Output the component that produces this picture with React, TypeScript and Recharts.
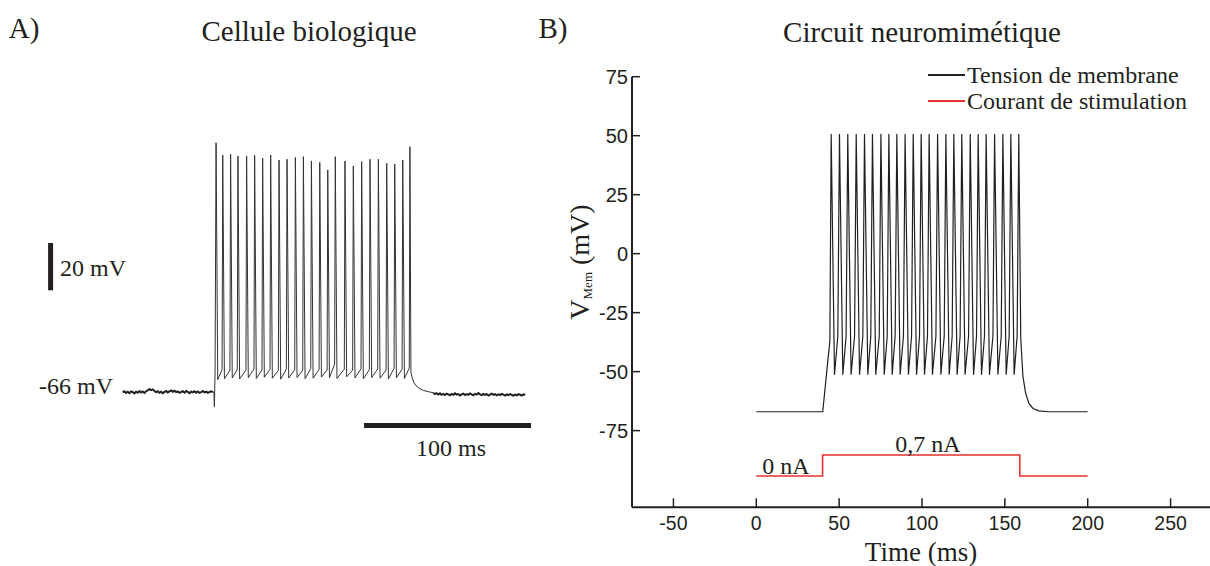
import { LineChart, Line, XAxis, YAxis, ReferenceLine } from "recharts";

const SERIF = '"Liberation Serif", "Times New Roman", serif';
const SANS = '"Liberation Sans", Arial, sans-serif';
const INK = "#231f20";
const RED = "#e8302f";

// ---------- A) Cellule biologique (time in ms, voltage in mV) ----------
const bioSampleMs = 1;
// resting trace before the stimulus, t = 0 .. 54 ms
const bioRestBefore = [
  -66.2, -65.7, -66.4, -65.9, -66.5, -65.8, -66.1, -66.6, -65.9, -66.3,
  -65.6, -66.2, -65.8, -66.4, -65.7, -65.3, -64.8, -65.2, -64.9, -65.6,
  -66.1, -65.7, -66.3, -65.9, -66.5, -66.0, -65.6, -66.2, -65.8, -65.4,
  -65.9, -65.5, -66.1, -65.8, -66.4, -66.0, -65.7, -66.3, -65.6, -66.0,
  -66.5, -65.9, -66.2, -65.7, -66.3, -65.8, -66.4, -66.1, -65.6, -66.2,
  -65.9, -66.4, -66.0, -65.7, -66.1,
];
// stimulus artefact at onset
const bioOnset = [
  { t: 54.6, v: -66.0 },
  { t: 54.9, v: -72.3 },
  { t: 55.3, v: -57.5 },
];
const bioSpikeTimes = [
  55.9, 59.9, 64.6, 69.0, 74.2, 79.0, 83.8, 88.6, 93.6, 98.4, 103.4, 108.2, 113.0, 118.0, 122.8,
  127.3, 133.1, 138.1, 143.1, 148.1, 153.1, 158.1, 162.9, 167.7, 172.0,
];
const bioSpikePeaks = [
  39.4, 34.2, 34.5, 33.8, 33.8, 34.1, 32.9, 34.2, 32.1, 32.4, 33.2, 33.5, 31.7, 31.1, 27.9, 33.5,
  31.7, 29.6, 31.4, 32.4, 32.4, 30.7, 30.4, 32.1, 37.7,
];
const bioTroughs = [
  -60.8, -60.4, -60.1, -60.5, -60.0, -60.3, -59.8, -60.2, -60.6, -60.1, -59.9, -60.4, -60.2, -59.7,
  -60.0, -60.3, -59.6, -60.1, -60.4, -59.9, -60.2, -60.5, -60.0, -60.3, -59.5,
];
// level reached just before each upstroke
const bioRampTops = [
  -57.5, -56.6, -56.9, -56.4, -56.8, -56.2, -56.7, -56.5, -56.9, -56.3, -56.6, -56.8, -56.1, -56.5,
  -56.7, -54.2, -56.4, -56.8, -56.2, -56.6, -56.3, -56.7, -56.0, -56.4, -55.9,
];
const bioDecay = [
  { t: 172.6, v: -57.8 },
  { t: 173.3, v: -59.9 },
  { t: 174.3, v: -61.9 },
  { t: 175.6, v: -63.3 },
  { t: 177.5, v: -64.4 },
  { t: 180.0, v: -65.3 },
  { t: 183.0, v: -65.9 },
];
const bioRestAfterStart = 186;
const bioRestAfter = [
  -66.3, -66.9, -66.5, -67.1, -66.6, -67.2, -66.8, -67.3, -66.7, -67.0,
  -67.4, -66.8, -67.2, -66.6, -67.1, -66.9, -67.5, -67.0, -66.7, -67.3,
  -66.9, -67.2, -66.6, -67.0, -67.4, -66.8, -67.1, -66.5, -67.0, -67.3,
  -66.8, -67.2, -66.9, -67.5, -67.1, -66.7, -67.2, -66.9, -67.4, -67.0,
  -67.3, -66.8, -67.1, -67.5, -67.0, -67.3, -66.9, -67.2, -67.6, -67.1,
  -67.4, -66.9, -67.2, -67.5, -67.0, -67.3,
];
// scale bars: 20 mV and 100 ms
const barMvX = -43.2;
const barMv = [-23, -3];
const barMsY = -80.2;
const barMs = [144.5, 244.5];

// ---------- B) Circuit neuromimétique ----------
const simRest = [
  { t: 0, v: -67 },
  { t: 40.1, v: -67 },
  { t: 42.8, v: -48 },
  { t: 44.4, v: -37 },
];
const simSpikeTimes = [
  45.2, 50.2, 55.2, 60.3, 65.3, 70.1, 75.2, 80.0, 84.8, 89.8, 94.7, 99.5, 104.3, 109.4, 114.4,
  119.2, 124.0, 129.1, 133.9, 138.7, 143.8, 148.8, 153.6, 158.4,
];
const simPeak = 50.7;
const simTrough = -51.3;
const simThreshold = -35;
const simDecay = [
  { t: 159.6, v: -36 },
  { t: 160.9, v: -52 },
  { t: 162.5, v: -59 },
  { t: 164.5, v: -63.5 },
  { t: 167.0, v: -65.6 },
  { t: 170.5, v: -66.6 },
  { t: 176.0, v: -67 },
  { t: 200.0, v: -67 },
];
const stimTimes = [0, 40, 40, 159, 159, 200];
const stimNa = [0, 0, 0.7, 0.7, 0, 0];

const xTicksB = [-50, 0, 50, 100, 150, 200, 250];
const yTicksB = [-75, -50, -25, 0, 25, 50, 75];

const seriesB = [
  { key: "v", name: "Tension de membrane", color: INK },
  { key: "i", name: "Courant de stimulation", color: RED },
];

// build traces
const bioBefore = bioRestBefore.map((v, i) => ({ t: i * bioSampleMs, v }));
const bioAfter = bioRestAfter.map((v, i) => ({ t: bioRestAfterStart + i * bioSampleMs, v }));

const bioFiring: { t: number; v: number }[] = [bioBefore[bioBefore.length - 1], ...bioOnset];
bioSpikeTimes.forEach((tp, i) => {
  if (i > 0) bioFiring.push({ t: tp - 0.4, v: bioRampTops[i] });
  bioFiring.push({ t: tp, v: bioSpikePeaks[i] });
  if (i < bioSpikeTimes.length - 1) bioFiring.push({ t: tp + 1.0, v: bioTroughs[i] });
});
bioDecay.forEach((p) => bioFiring.push(p));
bioFiring.push(bioAfter[0]);

const simTrace: { t: number; v: number }[] = [...simRest];
simSpikeTimes.forEach((tp, i) => {
  simTrace.push({ t: tp, v: simPeak });
  if (i < simSpikeTimes.length - 1) {
    simTrace.push({ t: tp + 2.0, v: simTrough });
    simTrace.push({ t: simSpikeTimes[i + 1] - 1.0, v: simThreshold });
  }
});
simDecay.forEach((p) => simTrace.push(p));

const stimTrace = stimTimes.map((t, i) => ({ t, i: stimNa[i] }));

function YTick(props: any) {
  const { x, y, payload } = props;
  return (
    <g>
      <line x1={x + 4} x2={x + 12} y1={y} y2={y} stroke={INK} strokeWidth={1.5} />
      <text x={x} y={y + 7} textAnchor="end" fill={INK} fontFamily={SANS} fontSize={20}>
        {payload.value}
      </text>
    </g>
  );
}

function XTick(props: any) {
  const { x, y, payload } = props;
  return (
    <g>
      <line x1={x} x2={x} y1={y - 9} y2={y - 18} stroke={INK} strokeWidth={1.5} />
      <text x={x} y={y + 13.5} textAnchor="middle" fill={INK} fontFamily={SANS} fontSize={19.5}>
        {payload.value}
      </text>
    </g>
  );
}

function Txt({ x, y, size, children }: { x: number; y: number; size: number; children: any }) {
  return (
    <div
      style={{
        position: "absolute",
        left: x,
        top: y,
        transform: "translate(-50%, -50%)",
        fontFamily: SERIF,
        fontSize: size,
        lineHeight: 1,
        color: INK,
        whiteSpace: "nowrap",
      }}
    >
      {children}
    </div>
  );
}

export default function App() {
  return (
    <div
      style={{
        position: "absolute",
        left: 0,
        top: 0,
        width: 1210,
        height: 566,
        overflow: "hidden",
        background: "#fff",
      }}
    >
      {/* Panel A */}
      <div style={{ position: "absolute", left: 0, top: 0 }}>
        <LineChart width={540} height={566} margin={{ top: 0, right: 0, bottom: 0, left: 0 }}>
          <XAxis type="number" dataKey="t" hide domain={[-73.5, 249.9]} allowDataOverflow />
          <YAxis type="number" hide domain={[-139.6, 99.75]} allowDataOverflow />
          <ReferenceLine
            segment={[
              { x: barMvX, y: barMv[0] },
              { x: barMvX, y: barMv[1] },
            ]}
            stroke={INK}
            strokeWidth={5}
          />
          <ReferenceLine
            segment={[
              { x: barMs[0], y: barMsY },
              { x: barMs[1], y: barMsY },
            ]}
            stroke={INK}
            strokeWidth={5}
          />
          <Line
            data={bioFiring}
            dataKey="v"
            type="linear"
            stroke="#333"
            strokeWidth={1}
            dot={false}
            activeDot={false}
            isAnimationActive={false}
          />
          <Line
            data={bioBefore}
            dataKey="v"
            type="linear"
            stroke={INK}
            strokeWidth={2}
            strokeLinecap="butt"
            dot={false}
            activeDot={false}
            isAnimationActive={false}
          />
          <Line
            data={bioAfter}
            dataKey="v"
            type="linear"
            stroke={INK}
            strokeWidth={2}
            strokeLinecap="butt"
            dot={false}
            activeDot={false}
            isAnimationActive={false}
          />
        </LineChart>
      </div>

      {/* Panel B */}
      <div style={{ position: "absolute", left: 540, top: 0 }}>
        <LineChart width={672} height={566} margin={{ top: 76.7, right: 0, bottom: 18.7, left: 0 }}>
          <XAxis
            type="number"
            dataKey="t"
            domain={[-75, 275]}
            ticks={xTicksB}
            allowDataOverflow
            height={40}
            axisLine={{ stroke: INK, strokeWidth: 2 }}
            tickLine={false}
            tickSize={0}
            tickMargin={9}
            tick={<XTick />}
          />
          <YAxis
            yAxisId="v"
            type="number"
            domain={[-107.5, 75]}
            ticks={yTicksB}
            allowDataOverflow
            width={92}
            axisLine={{ stroke: INK, strokeWidth: 2 }}
            tickLine={false}
            tickSize={0}
            tickMargin={4}
            tick={<YTick />}
          />
          <YAxis
            yAxisId="i"
            orientation="right"
            type="number"
            hide
            domain={[-1.043, 13.31]}
            allowDataOverflow
          />
          <Line
            yAxisId="v"
            data={simTrace}
            dataKey="v"
            name={seriesB[0].name}
            type="linear"
            stroke={seriesB[0].color}
            strokeWidth={1.2}
            dot={false}
            activeDot={false}
            isAnimationActive={false}
          />
          <Line
            yAxisId="i"
            data={stimTrace}
            dataKey="i"
            name={seriesB[1].name}
            type="linear"
            stroke={seriesB[1].color}
            strokeWidth={1.6}
            dot={false}
            activeDot={false}
            isAnimationActive={false}
          />
        </LineChart>
      </div>

      {/* Legend B */}
      <div style={{ position: "absolute", left: 928, top: 62 }}>
        {seriesB.map((s) => (
          <div key={s.key} style={{ display: "flex", alignItems: "center", height: 26 }}>
            <span style={{ display: "inline-block", width: 37, height: 1.6, background: s.color }} />
            <span style={{ marginLeft: 2, fontFamily: SERIF, fontSize: 24, color: INK, lineHeight: 1 }}>
              {s.name}
            </span>
          </div>
        ))}
      </div>

      {/* Texts */}
      <Txt x={24} y={28} size={29}>A)</Txt>
      <Txt x={309} y={31} size={29}>Cellule biologique</Txt>
      <Txt x={553} y={28} size={29}>B)</Txt>
      <Txt x={922} y={32} size={29}>Circuit neuromimétique</Txt>

      <Txt x={93} y={268} size={24}>20 mV</Txt>
      <Txt x={76} y={386} size={24}>-66 mV</Txt>
      <Txt x={451} y={448} size={24}>100 ms</Txt>

      <Txt x={786} y={466} size={24}>0 nA</Txt>
      <Txt x={928} y={444} size={24}>0,7 nA</Txt>
      <Txt x={921} y={552} size={27}>Time (ms)</Txt>

      <div
        style={{
          position: "absolute",
          left: 580,
          top: 262,
          transform: "translate(-50%, -50%) rotate(-90deg)",
          fontFamily: SERIF,
          fontSize: 28,
          lineHeight: 1,
          color: INK,
          whiteSpace: "nowrap",
        }}
      >
        V<span style={{ fontSize: 13, verticalAlign: "-0.3em" }}>Mem</span> (mV)
      </div>
    </div>
  );
}
